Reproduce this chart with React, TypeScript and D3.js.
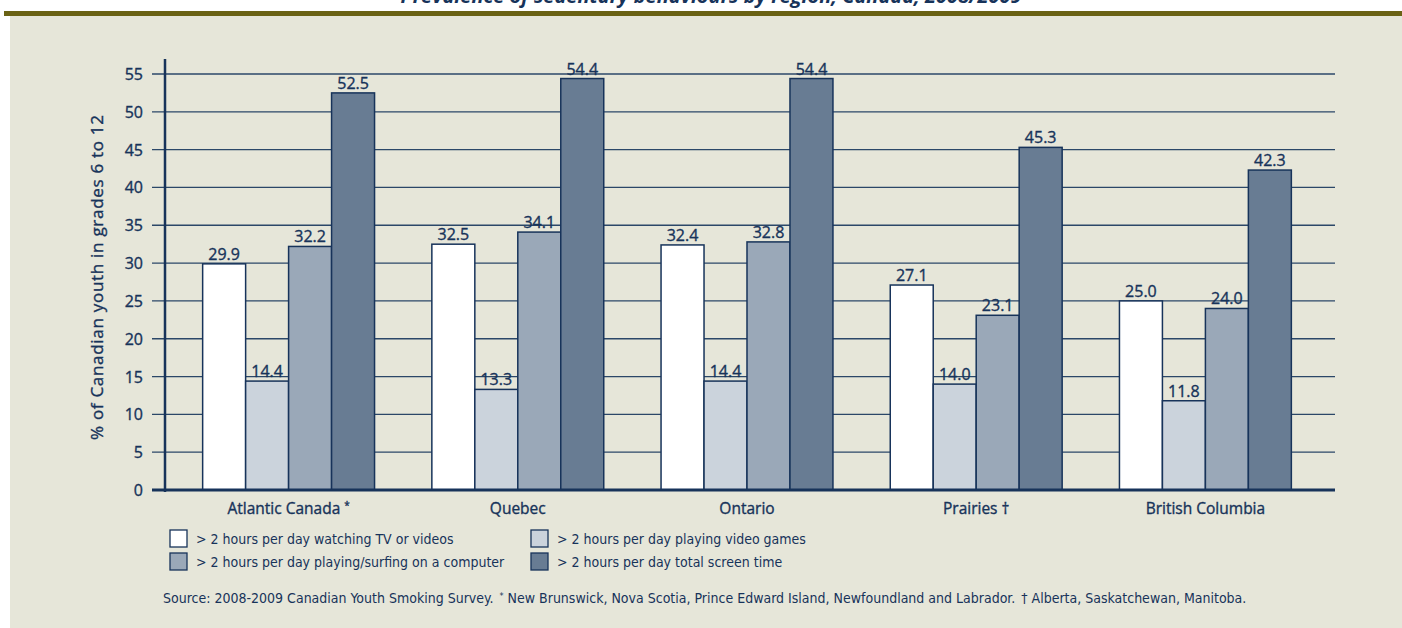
import React from 'react'
import * as d3 from 'd3'

const categories = ['Atlantic Canada', 'Quebec', 'Ontario', 'Prairies', 'British Columbia']
const categoryMarks = ['*', '', '', '†', '']
const seriesNames = [
  '> 2 hours per day watching TV or videos',
  '> 2 hours per day playing video games',
  '> 2 hours per day playing/surfing on a computer',
  '> 2 hours per day total screen time',
]
const tvValues = [29.9, 32.5, 32.4, 27.1, 25.0]
const gameValues = [14.4, 13.3, 14.4, 14.0, 11.8]
const computerValues = [32.2, 34.1, 32.8, 23.1, 24.0]
const totalValues = [52.5, 54.4, 54.4, 45.3, 42.3]
const yTicks = [0, 5, 10, 15, 20, 25, 30, 35, 40, 45, 50, 55]

const series = [tvValues, gameValues, computerValues, totalValues]
const fills = ['#ffffff', '#cbd3dc', '#9aa8b8', '#687c93']
const navy = '#17335a'
const font = '"DejaVu Sans Condensed", "Liberation Sans Narrow", sans-serif'
const numFont = '"Open Sans", "DejaVu Sans", sans-serif'

export default function App() {
  const W = 1402
  const H = 628
  const x0 = d3.scaleBand<string>().domain(categories).range([174, 1320]).paddingInner(0.25).paddingOuter(0.125)
  const x1 = d3.scaleBand<number>().domain([0, 1, 2, 3]).range([0, x0.bandwidth()])
  const y = d3.scaleLinear().domain([0, 55]).range([490, 74])
  const gridLeft = 152
  const gridRight = 1335
  // faux medium weight
  const med = { stroke: navy, strokeWidth: 0.35 }

  return (
    <div style={{ position: 'absolute', left: 0, top: 0 }}>
      <svg width={W} height={H} style={{ display: 'block' }}>
        <rect x={0} y={0} width={W} height={H} fill="#ffffff" />
        <rect x={10} y={15} width={W - 10} height={H - 15} fill="#e6e6d9" />
        <rect x={4} y={11} width={W - 4} height={5} fill="#6a6214" />
        <text x={711} y={3} textAnchor="middle" fontFamily={numFont} fontSize={20} fontWeight="bold" fontStyle="italic" fill={navy}>
          Prevalence of sedentary behaviours by region, Canada, 2008/2009
        </text>

        {/* grid + y ticks */}
        {yTicks.map((t) => (
          <g key={t}>
            {t > 0 && (
              <line x1={gridLeft} x2={gridRight} y1={y(t)} y2={y(t)} stroke="#2b4768" strokeWidth={1.3} />
            )}
            <text x={143} y={y(t) + 6} textAnchor="end" fontFamily={numFont} fontSize={16} fill={navy} {...med}>
              {t}
            </text>
          </g>
        ))}

        {/* bars */}
        {categories.map((c, ci) => (
          <g key={c} transform={`translate(${x0(c)},0)`}>
            {series.map((vals, si) => (
              <g key={si}>
                <rect
                  x={x1(si)}
                  y={y(vals[ci])}
                  width={x1.bandwidth()}
                  height={y(0) - y(vals[ci])}
                  fill={fills[si]}
                  stroke={navy}
                  strokeWidth={1.5}
                />
                <text
                  x={(x1(si) as number) + x1.bandwidth() / 2}
                  y={y(vals[ci]) - 4}
                  textAnchor="middle"
                  fontFamily={numFont}
                  fontSize={16}
                  fill={navy}
                  {...med}
                >
                  {vals[ci].toFixed(1)}
                </text>
              </g>
            ))}
            <text x={x0.bandwidth() / 2} y={514} textAnchor="middle" fontFamily={numFont} fontSize={15.5} fill={navy} {...med}>
              {c}
              {categoryMarks[ci] === '*' && (
                <tspan dx={4} dy={-5} fontSize={10}>*</tspan>
              )}
              {categoryMarks[ci] === '†' && <tspan dx={4}>†</tspan>}
            </text>
          </g>
        ))}

        {/* axes */}
        <line x1={gridLeft} x2={gridRight} y1={y(0)} y2={y(0)} stroke={navy} strokeWidth={3} />
        <line x1={165} x2={165} y1={59} y2={492} stroke={navy} strokeWidth={2.5} />

        <text
          transform={`translate(103,${(440 + 115) / 2}) rotate(-90)`}
          textAnchor="middle"
          fontFamily={numFont}
          fontSize={17}
          textLength={325}
          lengthAdjust="spacing"
          fill={navy}
          {...med}
        >
          % of Canadian youth in grades 6 to 12
        </text>

        {/* legend */}
        {seriesNames.map((name, i) => {
          const lx = i % 2 === 0 ? 170 : 531
          const ly = i < 2 ? 530 : 553
          return (
            <g key={name} transform={`translate(${lx},${ly})`}>
              <rect x={0} y={0} width={17} height={17} fill={fills[i]} stroke={navy} strokeWidth={1.3} />
              <text x={26} y={14} fontFamily={font} fontSize={14} fill={navy}>
                {name}
              </text>
            </g>
          )
        })}

        <text x={163} y={603} fontFamily={font} fontSize={14} fill={navy}>
          Source: 2008-2009 Canadian Youth Smoking Survey.
          <tspan dx={6} dy={-4} fontSize={9}>*</tspan>
          <tspan dy={4}> New Brunswick, Nova Scotia, Prince Edward Island, Newfoundland and Labrador.</tspan>
          <tspan dx={6}>† Alberta, Saskatchewan, Manitoba.</tspan>
        </text>
      </svg>
    </div>
  )
}
